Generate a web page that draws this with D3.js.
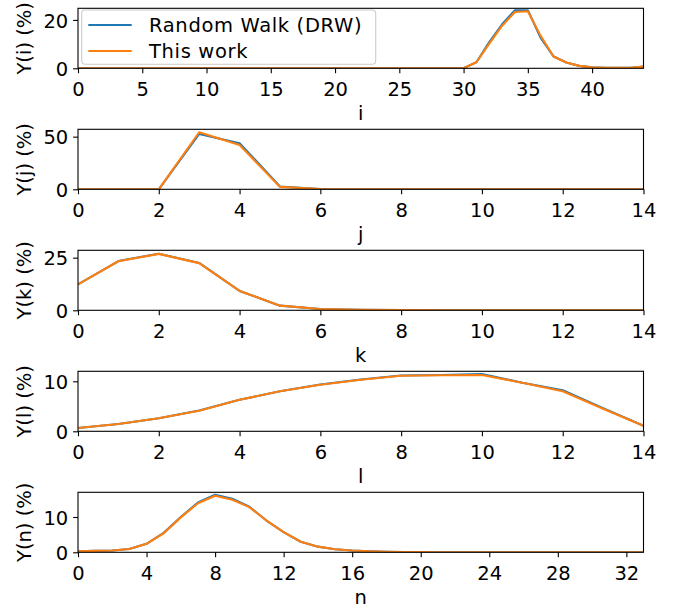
<!DOCTYPE html>
<html><head><meta charset="utf-8">
<script src="https://cdn.jsdelivr.net/npm/d3@7"></script>
<style>body{margin:0;background:#fff}</style>
</head><body>
<svg id="c" width="684" height="612"></svg>
<script>
// ---- data ----
const seriesNames = ["Random Walk (DRW)", "This work"];
const iDRW  = [0,0,0,0,0,0,0,0,0,0,0,0,0,0,0,0,0,0,0,0,0,0,0,0,0,0,0,0,0,0,0.05,2.5,10.8,18.2,24.0,24.0,12.6,4.9,2.4,1.0,0.4,0.2,0.2,0.25,0.7];
const iWork = [0,0,0,0,0,0,0,0,0,0,0,0,0,0,0,0,0,0,0,0,0,0,0,0,0,0,0,0,0,0,0.05,2.5,10.2,17.6,23.3,23.6,13.4,4.9,2.4,1.0,0.4,0.2,0.2,0.25,0.7];
const jDRW  = [0,0,0,52.6,43.8,2.7,0.2,0,0,0,0,0,0,0,0];
const jWork = [0,0,0,54.2,42.1,2.3,0.2,0,0,0,0,0,0,0,0];
const kDRW  = [12.3,23.4,26.9,22.5,9.2,2.2,0.6,0.25,0.1,0.05,0.03,0.02,0.01,0.01,0.01];
const kWork = [12.3,23.3,26.8,22.4,9.2,2.2,0.6,0.25,0.1,0.05,0.03,0.02,0.01,0.01,0.01];
const lDRW  = [0.67,1.45,2.6,4.15,6.3,8.0,9.35,10.35,11.15,11.25,11.45,9.7,8.2,4.6,1.1];
const lWork = [0.67,1.45,2.6,4.1,6.3,8.0,9.3,10.3,11.1,11.2,11.25,9.7,8.0,4.5,1.1];
const nDRW  = [0.3,0.4,0.5,0.95,2.4,5.5,10.0,14.1,16.3,15.2,12.9,9.0,5.7,3.0,1.6,0.86,0.5,0.3,0.15,0.1,0.05,0.03,0.02,0.01,0.01,0.01,0,0,0,0,0,0,0,0];
const nWork = [0.3,0.4,0.5,0.95,2.4,5.4,9.9,13.9,16.0,14.9,12.8,9.0,5.7,3.0,1.6,0.86,0.5,0.3,0.15,0.1,0.05,0.03,0.02,0.01,0.01,0.01,0,0,0,0,0,0,0,0];
const varNames = ["i","j","k","l","n"];
const xLimits = [44,14,14,14,33];
const yLimits = [24.8,57,28.5,12,17];
const xTickLists = [[0,5,10,15,20,25,30,35,40],[0,2,4,6,8,10,12,14],[0,2,4,6,8,10,12,14],[0,2,4,6,8,10,12,14],[0,4,8,12,16,20,24,28,32]];
const yTickLists = [[0,20],[0,50],[0,25],[0,10],[0,10]];
const drwSeries = [iDRW,jDRW,kDRW,lDRW,nDRW];
const workSeries = [iWork,jWork,kWork,lWork,nWork];
const colors = ["#1f77b4","#ff7f0e"];

// ---- layout ----
const svg = d3.select("#c");
svg.append("rect").attr("width",684).attr("height",612).attr("fill","#fff");
const L = 78, R = 643.5, panelH = 60, firstTop = 8.3, step = 121;
const FONT = "DejaVu Sans, sans-serif", FS = 19.5;
const tickLen = 4.9, pad = 4.9;

varNames.forEach((v, p) => {
  const top = firstTop + p*step, bottom = top + panelH;
  const x = d3.scaleLinear().domain([0, xLimits[p]]).range([L, R]);
  const y = d3.scaleLinear().domain([0, yLimits[p]]).range([bottom, top]);
  const g = svg.append("g");
  const cid = "clip"+p;
  svg.append("clipPath").attr("id",cid).append("rect")
    .attr("x",L).attr("y",top).attr("width",R-L).attr("height",panelH);
  const line = d3.line().x((d,i)=>x(i)).y(d=>y(d));
  [drwSeries[p], workSeries[p]].forEach((s, si) => {
    g.append("path").datum(s).attr("d", line).attr("fill","none")
      .attr("stroke", colors[si]).attr("stroke-width", 2.1)
      .attr("stroke-linejoin","round").attr("stroke-linecap","butt")
      .attr("clip-path", `url(#${cid})`);
  });
  // frame
  g.append("rect").attr("x",L).attr("y",top).attr("width",R-L).attr("height",panelH)
    .attr("fill","none").attr("stroke","#000").attr("stroke-width",1.1);
  // x axis
  const xa = d3.axisBottom(x).tickValues(xTickLists[p]).tickSize(tickLen).tickPadding(pad).tickSizeOuter(0).tickFormat(d3.format("d"));
  const xg = svg.append("g").attr("transform",`translate(0,${bottom})`).call(xa);
  xg.select(".domain").remove();
  xg.selectAll("line").attr("stroke","#000").attr("stroke-width",1.1);
  xg.selectAll("text").attr("font-family",FONT).attr("font-size",FS).attr("fill","#000")
    .attr("y", null).attr("dy", null).attr("y", 27.3);
  // y axis
  const ya = d3.axisLeft(y).tickValues(yTickLists[p]).tickSize(tickLen).tickPadding(pad).tickSizeOuter(0).tickFormat(d3.format("d"));
  const yg = svg.append("g").attr("transform",`translate(${L},0)`).call(ya);
  yg.select(".domain").remove();
  yg.selectAll("line").attr("stroke","#000").attr("stroke-width",1.1);
  yg.selectAll("text").attr("font-family",FONT).attr("font-size",FS).attr("fill","#000")
    .attr("dy", null).attr("y", 7.1);
  // labels
  svg.append("text").attr("x",(L+R)/2).attr("y",bottom+51.5).attr("text-anchor","middle")
    .attr("font-family",FONT).attr("font-size",FS).text(v);
  svg.append("text").attr("transform",`translate(30.5,${(top+bottom)/2}) rotate(-90)`)
    .attr("text-anchor","middle").attr("font-family",FONT).attr("font-size",FS)
    .text(`Y(${v}) (%)`);
});

// legend (first panel)
const lg = svg.append("g");
lg.append("rect").attr("x",81.7).attr("y",10).attr("width",294).attr("height",54.3)
  .attr("rx",3.5).attr("fill","rgba(255,255,255,0.8)").attr("stroke","#cccccc").attr("stroke-width",1.1);
seriesNames.forEach((name, si) => {
  const cy = 25 + si*26;
  lg.append("line").attr("x1",88.3).attr("x2",131.7).attr("y1",cy).attr("y2",cy)
    .attr("stroke",colors[si]).attr("stroke-width",2.1);
  lg.append("text").attr("x",149).attr("y",cy+7.1).attr("font-family",FONT).attr("font-size",FS)
    .attr("letter-spacing",0.65).attr("fill","#000").text(name);
});
</script>
</body></html>
